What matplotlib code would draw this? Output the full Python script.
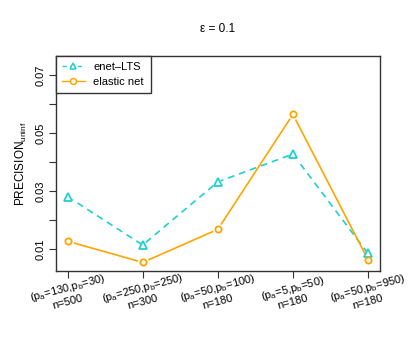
import numpy as np
import matplotlib
matplotlib.use("Agg")
import matplotlib.pyplot as plt

plt.rcParams['font.family'] = ['Liberation Sans', 'DejaVu Sans']
plt.rcParams['mathtext.fontset'] = 'custom'
plt.rcParams['mathtext.rm'] = 'Liberation Sans'
plt.rcParams['mathtext.it'] = 'Liberation Sans'

# data
settings = [
    (r"$(\mathrm{p_a}$=130,$\mathrm{p_b}$=30)", "n=500"),
    (r"$(\mathrm{p_a}$=250,$\mathrm{p_b}$=250)", "n=300"),
    (r"$(\mathrm{p_a}$=50,$\mathrm{p_b}$=100)", "n=180"),
    (r"$(\mathrm{p_a}$=5,$\mathrm{p_b}$=50)", "n=180"),
    (r"$(\mathrm{p_a}$=50,$\mathrm{p_b}$=950)", "n=180"),
]
enet_lts = [0.0281, 0.0114, 0.0332, 0.0428, 0.0085]
elastic_net = [0.0127, 0.0054, 0.0168, 0.0565, 0.0064]
yticks = [0.01, 0.02, 0.03, 0.04, 0.05, 0.06, 0.07]
ytick_labels = ["0.01", "", "0.03", "", "0.05", "", "0.07"]

CYAN = "#1fd0d0"
ORANGE = "#ffa500"

fig = plt.figure(figsize=(4.09, 3.41), dpi=100)
ax = fig.add_axes([0.136, 0.205, 0.793, 0.632])

x = np.arange(1, len(settings) + 1)

# line with gaps around points (R type="b")
ax.plot(x, enet_lts, color=CYAN, lw=1.2, ls=(0, (4, 3)), zorder=2)
ax.plot(x, enet_lts, ls='none', marker='^', ms=9, mfc='white', mec='none', zorder=3)
ax.plot(x, enet_lts, ls='none', marker='^', ms=5.2, mfc='none', mec=CYAN, mew=1.3, zorder=4)

ax.plot(x, elastic_net, color=ORANGE, lw=1.2, zorder=2)
ax.plot(x, elastic_net, ls='none', marker='o', ms=8, mfc='white', mec='none', zorder=3)
ax.plot(x, elastic_net, ls='none', marker='o', ms=4.5, mfc='none', mec=ORANGE, mew=1.3, zorder=4)

h1, = ax.plot([], [], color=CYAN, lw=1.0, ls=(0, (3, 2.5)), marker='^', ms=5,
              mfc='white', mec=CYAN, mew=1.1)
h2, = ax.plot([], [], color=ORANGE, lw=1.0, marker='o', ms=4.3,
              mfc='white', mec=ORANGE, mew=1.1)

ax.set_xlim(0.84, 5.16)
ax.set_ylim(0.0024, 0.0768)
ax.set_xticks(x)
ax.set_xticklabels([])
ax.set_yticks(yticks)
ax.set_yticklabels(ytick_labels, rotation=90, va='center', fontsize=8)
ax.tick_params(direction='out', length=5, width=0.8, color='#333333', pad=2)

for s in ax.spines.values():
    s.set_linewidth(1.0)
    s.set_color('#333333')

for xi, (top, bottom) in zip(x, settings):
    ax.annotate(top, xy=(xi, 0), xycoords=('data', 'axes fraction'),
                xytext=(0, -12.5), textcoords='offset points',
                rotation=15, ha='center', va='center', rotation_mode='anchor',
                fontsize=8)
    ax.annotate(bottom, xy=(xi, 0), xycoords=('data', 'axes fraction'),
                xytext=(0, -22.5), textcoords='offset points',
                rotation=15, ha='center', va='center', rotation_mode='anchor',
                fontsize=8)

ax.set_ylabel(r"PRECISION$_{\mathrm{uninf}}$", fontsize=8.5, labelpad=5)
fig.text(0.532, 0.915, r"ε = 0.1", ha='center', va='center', fontsize=8.5)

leg = ax.legend([h1, h2], ["enet\u2013LTS", "elastic net"], loc='upper left',
                bbox_to_anchor=(0, 1), borderaxespad=0, fancybox=False,
                framealpha=1, edgecolor='#333333', fontsize=8,
                handlelength=2.0, handletextpad=0.8, borderpad=0.6,
                labelspacing=0.4)
leg.get_frame().set_linewidth(1.0)

fig.savefig("out.png", dpi=100)
